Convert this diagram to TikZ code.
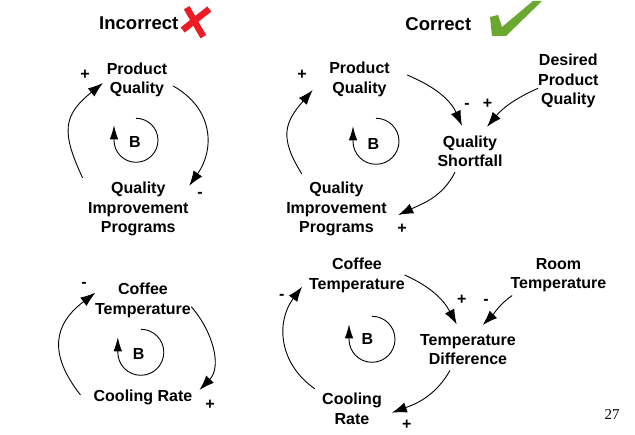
\documentclass[tikz,border=0pt]{standalone}
\usepackage{fontspec}
\setmainfont{Liberation Sans}
\newfontfamily\numfont{Liberation Serif}
\usetikzlibrary{arrows.meta}
\definecolor{xred}{RGB}{237,28,36}
\definecolor{okgreen}{RGB}{106,168,48}
\definecolor{faint}{RGB}{246,246,246}
\begin{document}
\begin{tikzpicture}[x=1pt,y=1pt,
  lbl/.style={font=\bfseries\fontsize{16}{19.5}\selectfont, align=center, inner sep=0pt,
    execute at begin node=\strut, execute at end node=\strut},
  sgn/.style={font=\bfseries\fontsize{16}{19.5}\selectfont, inner sep=0pt, anchor=base},
  ttl/.style={font=\bfseries\fontsize{18.5}{22}\selectfont, inner sep=0pt, anchor=base},
  bb/.style={font=\bfseries\fontsize{16}{19.5}\selectfont, inner sep=0pt, anchor=base},
  arr/.style={line width=0.9pt, -{Latex[length=15pt,width=10.5pt]}},
  loopline/.style={line width=0.9pt, -{Latex[length=14pt,width=8.5pt]}},
]
\useasboundingbox (0,-435) rectangle (635,0);

% titles and marks
\node[ttl] (t1) at (138.8,-30) {Incorrect};
\node[ttl] (t2) at (438.3,-30.7) {Correct};
\draw[xred, line width=6.5pt] (186.7,-7.7) -- (203.3,-36.7);
\draw[xred, line width=6.5pt] (209.3,-9) -- (182.7,-30);
\fill[faint] (484,0) -- (549,0) -- (544,45) -- (483,45) -- cycle;
\fill[okgreen] (490,-17) -- (498,-15) -- (502,-27) -- (533,-1) -- (542,-1) -- (506,-36) -- (492,-36) -- cycle;

% top left
\node[lbl] (pq1) at (137,-81.1) {Product\\Quality};
\node[lbl] (qip1) at (138.3,-210.6) {Quality\\Improvement\\Programs};
\node[bb] (b1) at (135,-147.5) {B};
\node[sgn] (s1) at (85,-79.5) {+};
\node[sgn] (s2) at (200,-198) {-};
\draw[arr] ([shift={(-5.3,4.35)}]qip1.north west) to[out=115,in=219,looseness=1.35] ([shift={(-3.7,-1.9)}]pq1.west);
\draw[arr] ([shift={(5.7,-4.9)}]pq1.east) to[out=-29,in=55,looseness=1.15] ([shift={(0.5,-3.65)}]qip1.north east);
\draw[loopline] ([shift={(1,23.7)}]b1.center) arc[start angle=90,end angle=-180,radius=22] -- ++(0,15);

% top right
\node[lbl] (pq2) at (359.5,-80.85) {Product\\Quality};
\node[lbl] (dpq) at (568.3,-82.3) {Desired\\Product\\Quality};
\node[lbl] (qs) at (470,-154.35) {Quality\\Shortfall};
\node[lbl] (qip2) at (336.5,-210.6) {Quality\\Improvement\\Programs};
\node[bb] (b2) at (373.5,-149.5) {B};
\node[sgn] (s3) at (302,-79.5) {+};
\node[sgn] (s4) at (467,-108.3) {-};
\node[sgn] (s5) at (487.5,-108.8) {+};
\node[sgn] (s6) at (402,-233.5) {+};
\draw[arr] ([shift={(15.7,8.35)}]qip2.north west) to[out=122,in=229,looseness=1.3] ([shift={(-16.3,-9.15)}]pq2.west);
\draw[arr] ([shift={(17.3,5.85)}]pq2.east) to[out=-23,in=114] ([shift={(-8,9.85)}]qs.north);
\draw[arr] ([shift={(0.2,-6)}]dpq.west) to[out=204,in=50] ([shift={(17,8.85)}]qs.north);
\draw[arr] ([shift={(-15,0.85)}]qs.south) to[out=-117,in=25] ([shift={(11.3,-4.4)}]qip2.east);
\draw[loopline] ([shift={(2.5,25.7)}]b2.center) arc[start angle=90,end angle=-180,radius=23] -- ++(0,15);

% bottom left
\node[lbl] (ct1) at (143,-301.5) {Coffee\\Temperature};
\node[lbl] (cr1) at (143,-397.8) {Cooling Rate};
\node[bb] (b3) at (138.7,-360) {B};
\node[sgn] (s7) at (84,-287.8) {-};
\node[sgn] (s8) at (210,-409.5) {+};
\draw[arr] ([shift={(-13,2.8)}]cr1.west) to[out=128,in=217,looseness=1.3] ([shift={(0.5,8.8)}]ct1.west);
\draw[arr] ([shift={(0.2,-5.2)}]ct1.east) to[out=-49,in=46] ([shift={(7,7.8)}]cr1.east);
\draw[loopline] ([shift={(2.1,25.2)}]b3.center) arc[start angle=90,end angle=-180,radius=23] -- ++(0,15);

% bottom right
\node[lbl] (ct2) at (357,-276.5) {Coffee\\Temperature};
\node[lbl] (rt) at (558.5,-276.5) {Room\\Temperature};
\node[lbl] (td) at (468,-352.5) {Temperature\\Difference};
\node[lbl] (cr2) at (352,-411.85) {Cooling\\Rate};
\node[bb] (b4) at (367.5,-345) {B};
\node[sgn] (s9) at (281.7,-299.8) {-};
\node[sgn] (s10) at (461.7,-304.8) {+};
\node[sgn] (s11) at (486,-304.8) {-};
\node[sgn] (s12) at (406.7,-430) {+};
\draw[arr] ([shift={(-0.5,1.5)}]ct2.east) to[out=-24,in=118] ([shift={(-11.3,9.75)}]td.north);
\draw[arr] ([shift={(1.7,-0.65)}]rt.south west) to[out=215,in=45] ([shift={(14.7,9.05)}]td.north);
\draw[arr] ([shift={(-18,0.35)}]td.south) to[out=-120,in=20] ([shift={(9.9,-0.85)}]cr2.east);
\draw[arr] ([shift={(-7.2,4.35)}]cr2.north west) to[out=145,in=233,looseness=1.1] ([shift={(-6.8,-10.2)}]ct2.west);
\draw[loopline] ([shift={(4.5,23.2)}]b4.center) arc[start angle=90,end angle=-180,radius=23] -- ++(0,15);

\node[font=\numfont\fontsize{15}{18}\selectfont, anchor=base, inner sep=0pt] (pg) at (612,-420) {27};
\end{tikzpicture}
\end{document}
